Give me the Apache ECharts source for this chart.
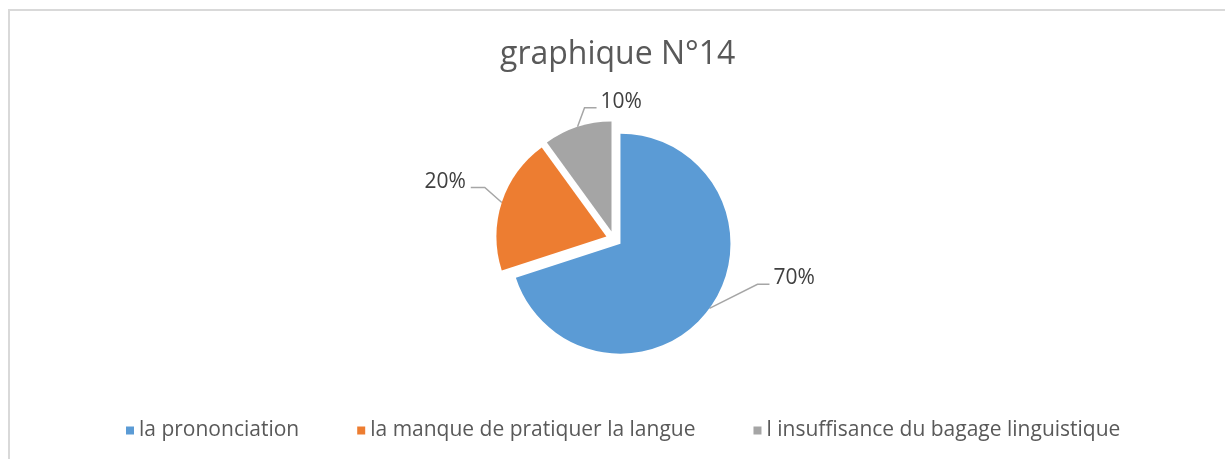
<!DOCTYPE html>
<html>
<head>
<meta charset="utf-8">
<script src="https://cdn.jsdelivr.net/npm/echarts@6/dist/echarts.min.js"></script>
<style>
html,body{margin:0;padding:0;background:#fff;overflow:hidden;}
#frame{position:absolute;left:8px;top:9px;width:1300px;height:500px;border-top:2px solid #d9d9d9;border-left:2px solid #d9d9d9;}
#chart{position:absolute;left:0;top:0;width:1225px;height:459px;}
</style>
</head>
<body>
<div id="frame"></div>
<div id="chart"></div>
<script>
const titleText = 'graphique N°14';
const categories = ['la prononciation', 'la manque de pratiquer la langue', 'l insuffisance du bagage linguistique'];
const values = [70, 20, 10];
const colors = ['#5b9bd5', '#ed7d31', '#a5a5a5'];

const chart = echarts.init(document.getElementById('chart'), null, {renderer: 'canvas'});
const fontFam = '"Open Sans", sans-serif';
// label offsets relative to the slice's outer mid-point (layout only)
const labelShift = [[64, -30], [-36, -21], [23, -25]];
chart.setOption({
  animation: false,
  title: {
    text: titleText,
    left: 495,
    top: 34,
    textStyle: {fontFamily: fontFam, fontSize: 32, fontWeight: 'normal', color: '#595959'}
  },
  legend: {
    bottom: 13,
    left: 121,
    itemWidth: 8,
    itemHeight: 8,
    itemGap: 58,
    icon: 'rect',
    selectedMode: false,
    textStyle: {fontFamily: fontFam, fontSize: 21, color: '#595959'},
    data: categories
  },
  series: [{
    type: 'pie',
    center: [614, 239],
    radius: [0, 110],
    startAngle: 90,
    clockwise: true,
    selectedMode: 'multiple',
    selectedOffset: 8,
    avoidLabelOverlap: false,
    label: {
      show: true,
      formatter: '{d}%',
      fontFamily: fontFam,
      fontSize: 21,
      color: '#404040'
    },
    labelLine: {
      show: true,
      length: 22,
      length2: 12,
      lineStyle: {color: '#a6a6a6', width: 1.5}
    },
    labelLayout: function (p) {
      const r = p.labelRect;
      const a = p.labelLinePoints ? p.labelLinePoints[0] : [r.x, r.y];
      const s = labelShift[p.dataIndex];
      const right = s[0] > 0;
      const curX = right ? r.x : r.x + r.width;
      const curY = r.y + r.height / 2;
      const tx = a[0] + s[0];
      const ty = a[1] + s[1];
      const end = [right ? tx - 4 : tx + 5, ty + 6];
      const mid = [right ? end[0] - 12 : end[0] + 14, end[1]];
      return {dx: tx - curX, dy: ty - curY, labelLinePoints: [[a[0], a[1]], mid, end]};
    },
    itemStyle: {borderWidth: 0},
    emphasis: {disabled: true},
    data: categories.map((c, i) => ({name: c, value: values[i], selected: true, itemStyle: {color: colors[i]}}))
  }]
});
</script>
</body>
</html>
